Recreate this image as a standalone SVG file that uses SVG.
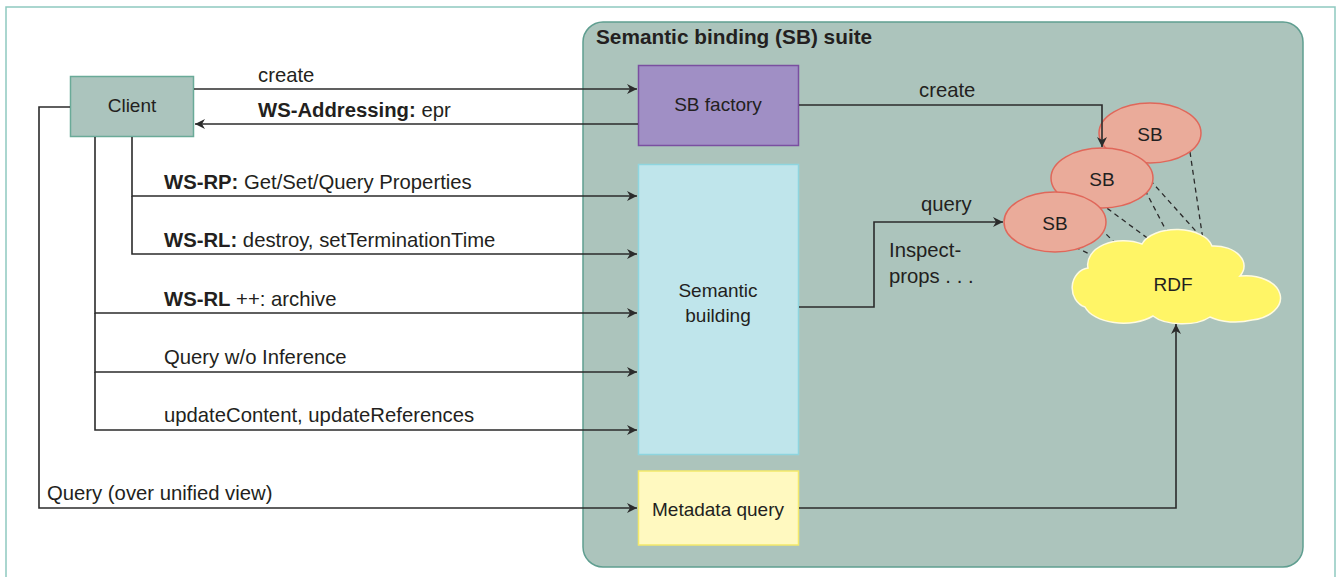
<svg xmlns="http://www.w3.org/2000/svg" width="1339" height="577" viewBox="0 0 1339 577">
<style>
text{font-family:"Liberation Sans",Arial,sans-serif;fill:#231f20;}
.lbl{font-size:20.3px;}
.nd{font-size:19px;text-anchor:middle;}
.ln{fill:none;stroke:#2b2b2b;stroke-width:1.6;}
.arr{marker-end:url(#ah);}
.dash{fill:none;stroke:#2b2b2b;stroke-width:1.3;stroke-dasharray:5,4;}
.sb{fill:#eaab9a;stroke:#e0675a;stroke-width:1.5;}
</style>
<defs>
<marker id="ah" viewBox="0 0 10 10" refX="10" refY="5" markerWidth="10" markerHeight="10" markerUnits="userSpaceOnUse" orient="auto">
<path d="M0,0 L10,5 L0,10 L3,5 Z" fill="#2b2b2b"/>
</marker>
</defs>
<rect width="1339" height="577" fill="#ffffff"/>
<path d="M6,577 V7 H1335 V577" fill="none" stroke="#8ec9c0" stroke-width="1.5"/>
<g id="suite">
<rect x="583" y="22" width="720" height="545" rx="20" ry="20" fill="#acc4bc" stroke="#5f9e90" stroke-width="1.5"/>
<text x="596" y="44" style="font-size:20.8px;font-weight:bold;">Semantic binding (SB) suite</text>
</g>
<g id="rdf-links">
<line class="dash" x1="1190" y1="152" x2="1203" y2="240"/>
<line class="dash" x1="1150" y1="180" x2="1202" y2="238"/>
<line class="dash" x1="1145" y1="190" x2="1170" y2="238"/>
<line class="dash" x1="1100" y1="203" x2="1150" y2="240"/>
<line class="dash" x1="1100" y1="228" x2="1120" y2="248"/>
<line class="dash" x1="1075" y1="247" x2="1098" y2="258"/>
</g>
<g id="client">
<rect x="70.5" y="76.5" width="123" height="60" fill="#abc4bd" stroke="#6aaa98" stroke-width="1.5"/>
<text class="nd" x="132" y="112">Client</text>
</g>
<g id="sb-factory">
<rect x="638.5" y="65.5" width="160" height="80" fill="#a08fc5" stroke="#7a4fa0" stroke-width="1.5"/>
<text class="nd" x="718" y="111">SB factory</text>
</g>
<g id="semantic-building">
<rect x="638.5" y="164.5" width="160" height="290" fill="#bfe5eb" stroke="#8ed5df" stroke-width="1.5"/>
<text class="nd" x="718" y="297">Semantic</text>
<text class="nd" x="718" y="322">building</text>
</g>
<g id="metadata-query">
<rect x="638.5" y="471" width="160" height="74" fill="#fff9c0" stroke="#f3e96a" stroke-width="1.5"/>
<text class="nd" x="718" y="516">Metadata query</text>
</g>
<g id="sb1">
<ellipse class="sb" cx="1150" cy="133" rx="51" ry="30"/>
<text class="nd" x="1150" y="141">SB</text>
</g>
<g id="sb2">
<ellipse class="sb" cx="1102" cy="178" rx="51" ry="30"/>
<text class="nd" x="1102" y="186">SB</text>
</g>
<g id="sb3">
<ellipse class="sb" cx="1055" cy="222" rx="51" ry="30"/>
<text class="nd" x="1055" y="230">SB</text>
</g>
<g id="rdf">
<path d="M1142,244 A36,20 0 0 1 1212,246 A30,20 0 0 1 1240,276 A34,22 0 0 1 1252,320 A36,18 0 0 1 1210,317 A34,16 0 0 1 1153,316 A40,22 0 0 1 1085,307 A18,20 0 0 1 1088,268 A36,24 0 0 1 1142,244 Z" fill="#fff566" stroke="#fffbe0" stroke-width="1.5"/>
<text class="nd" x="1173" y="291">RDF</text>
</g>
<g id="connectors">
<path class="ln arr" d="M194,89 H637"/>
<text class="lbl" x="258" y="82">create</text>
<path class="ln arr" d="M638,124 H195"/>
<text class="lbl" x="258" y="117"><tspan font-weight="bold">WS-Addressing:</tspan> epr</text>
<path class="ln arr" d="M132,137 V196 H637"/>
<text class="lbl" x="164" y="189"><tspan font-weight="bold">WS-RP:</tspan> Get/Set/Query Properties</text>
<path class="ln arr" d="M132,196 V254 H637"/>
<text class="lbl" x="164" y="247"><tspan font-weight="bold">WS-RL:</tspan> destroy, setTerminationTime</text>
<path class="ln arr" d="M95,137 V313 H637"/>
<text class="lbl" x="164" y="306"><tspan font-weight="bold">WS-RL</tspan> ++: archive</text>
<path class="ln arr" d="M95,313 V372 H637"/>
<text class="lbl" x="164" y="364">Query w/o Inference</text>
<path class="ln arr" d="M95,372 V430 H637"/>
<text class="lbl" x="164" y="422">updateContent, updateReferences</text>
<path class="ln arr" d="M70,107 H39 V508 H637"/>
<text class="lbl" x="47" y="500">Query (over unified view)</text>
<path class="ln arr" d="M799,105 H1102 V147"/>
<text class="lbl" x="919" y="97">create</text>
<path class="ln arr" d="M799,307 H874 V222 H1003"/>
<text class="lbl" x="921" y="211">query</text>
<text class="lbl" x="889" y="257">Inspect-</text>
<text class="lbl" x="889" y="283">props . . .</text>
<path class="ln arr" d="M799,508 H1176 V324"/>
</g>
</svg>
